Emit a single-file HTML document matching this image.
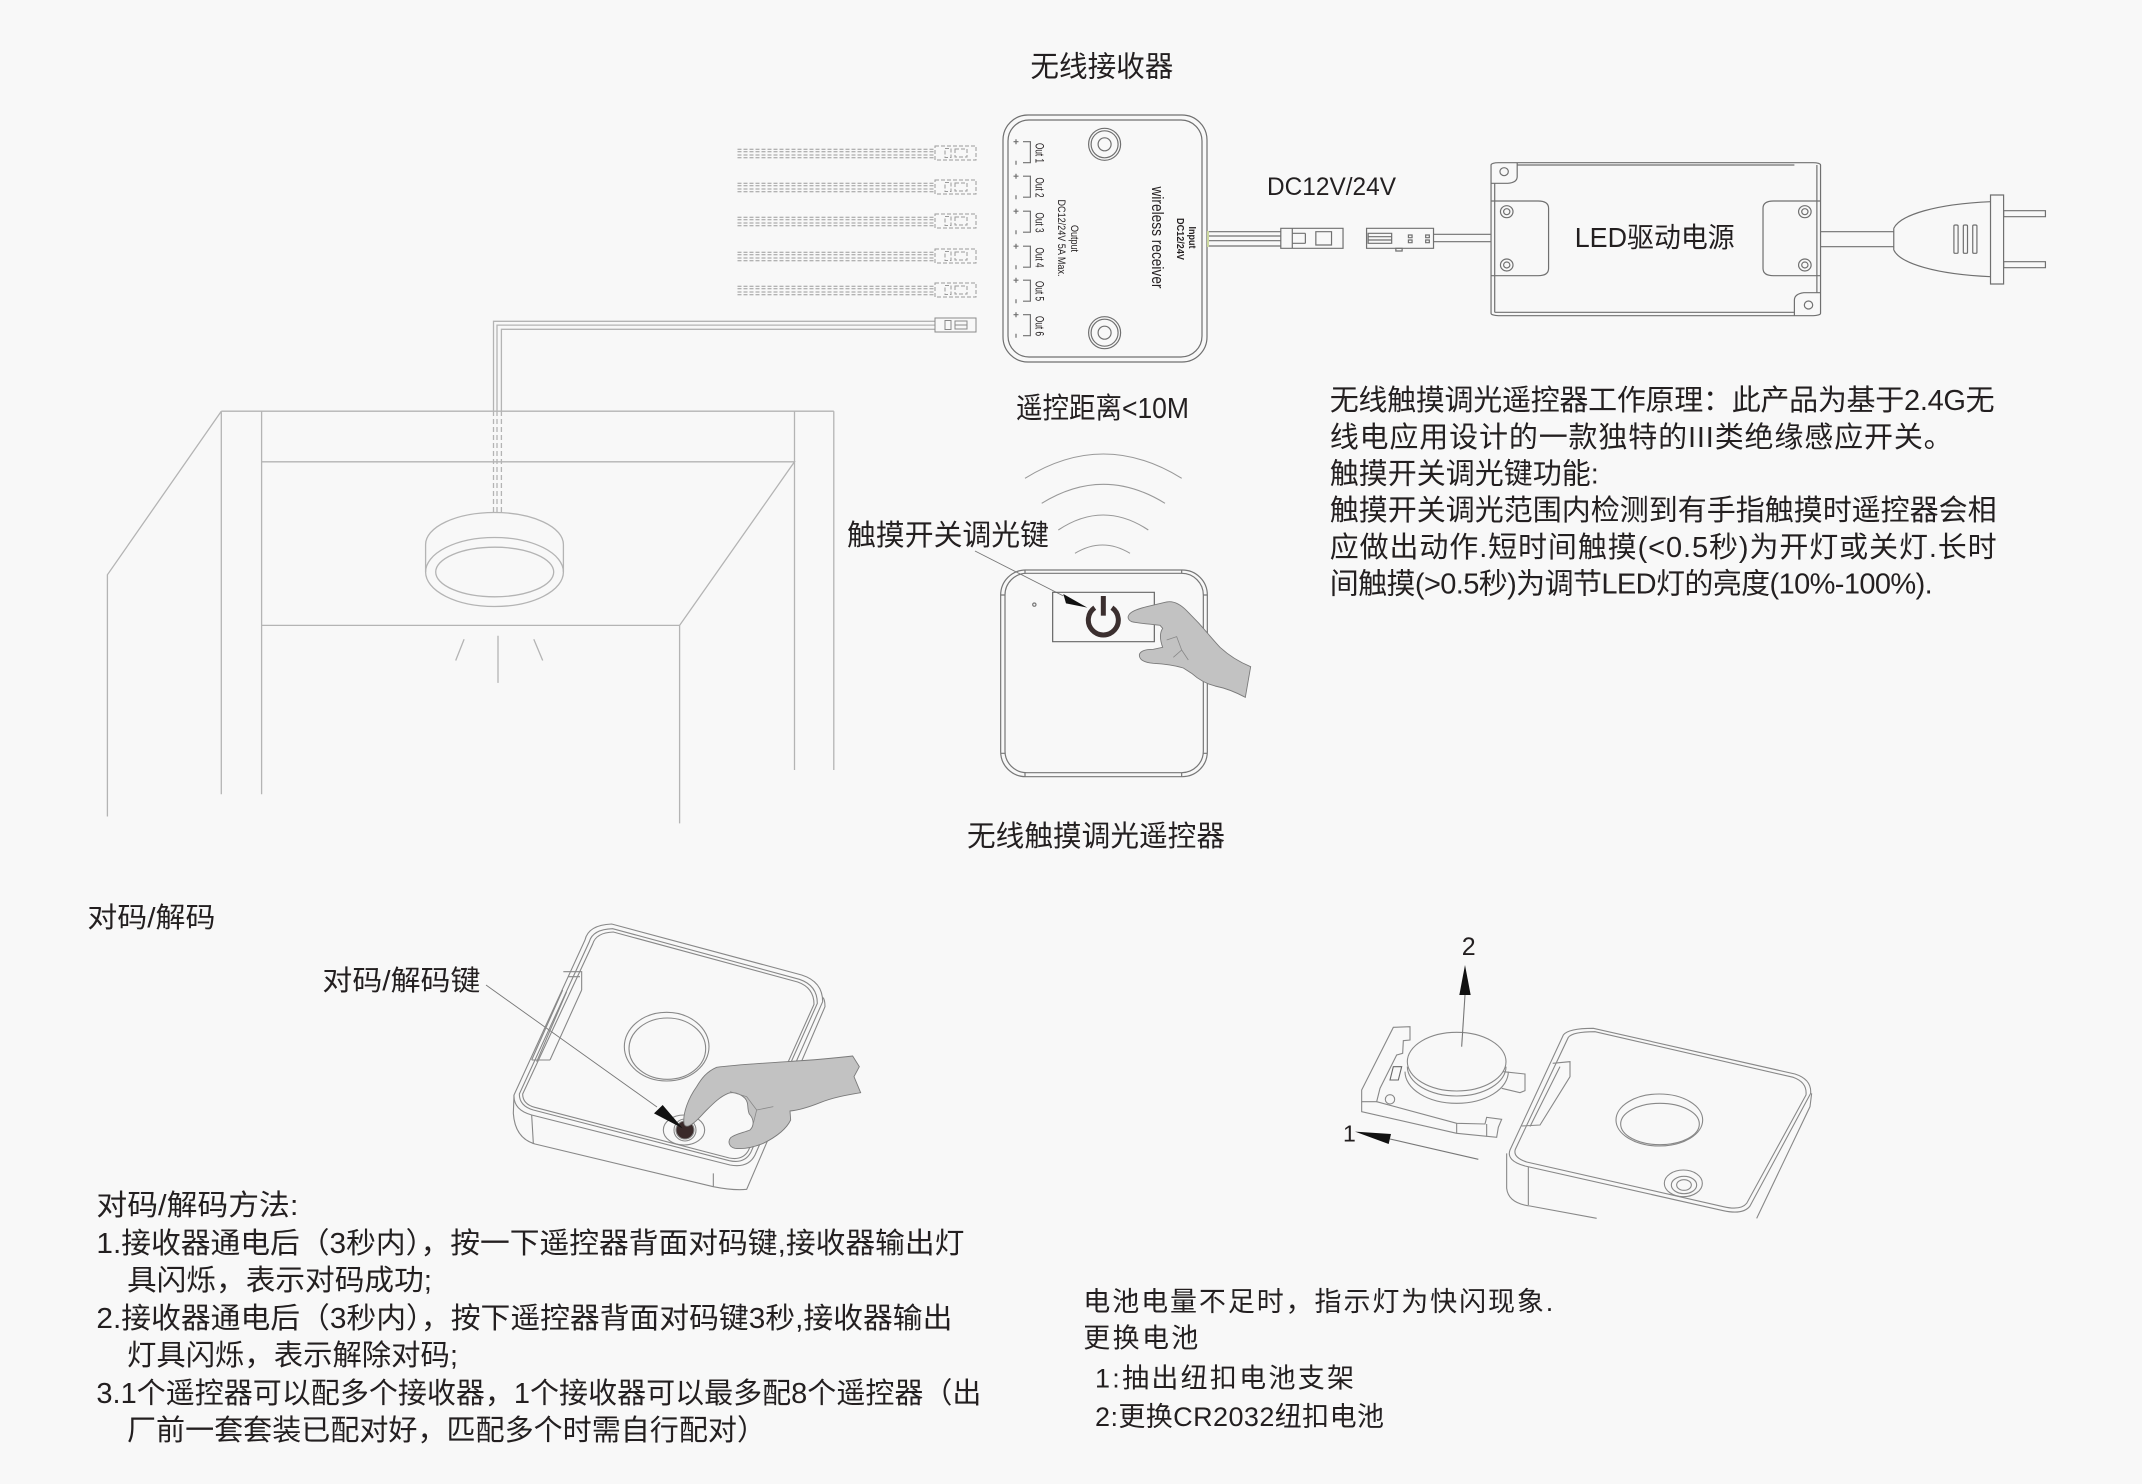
<!DOCTYPE html>
<html><head><meta charset="utf-8">
<style>
html,body{margin:0;padding:0;background:#f8f8f8;}
svg{display:block}
svg *{vector-effect:non-scaling-stroke}
text{font-family:"Liberation Sans","Noto Sans CJK SC",sans-serif;fill:#231f20;stroke:none}
</style></head><body>
<svg width="2142" height="1484" viewBox="0 0 2142 1484" xmlns="http://www.w3.org/2000/svg">
<rect width="2142" height="1484" fill="#f8f8f8"/>

<!-- ============ CABINET ============ -->
<g fill="none" stroke="#b4b4b4" stroke-width="1.3">
<path d="M221.3,411.2 H833.8 M221.3,411.2 L107.4,574.8 V816.5 M221.3,411.2 V794.2 M261.6,411.2 V794.2 M261.6,461.8 H794.5 L679.6,625.4 H261.6 M679.6,625.4 V823.4 M794.5,411.2 V770 M833.8,411.2 V770"/>
<path d="M935,321.3 H493.5 V411 M935,325.1 H497 V411 M935,329.3 H501.4 V411"/>
<path d="M493.5,411 V512 M497,411 V512 M501.4,411 V512" stroke-dasharray="5,3"/>
<path d="M425.6,572 V544.5 A68.9,32 0 0 1 563.4,544.5 V572"/>
<ellipse cx="494.5" cy="572" rx="68.9" ry="34.5"/>
<ellipse cx="494.7" cy="572" rx="59" ry="24.8"/>
<path d="M498,635.7 V682.9 M464.1,639.2 L455.7,660.5 M533.8,639.2 L542.7,660.5"/>
</g>

<!-- ============ RECEIVER ============ -->
<g fill="none" stroke="#707070" stroke-width="1.2">
<rect x="1003" y="115" width="204" height="247" rx="25"/>
<rect x="1008" y="120" width="194" height="237" rx="21"/>
<circle cx="1104.6" cy="144.3" r="16"/><circle cx="1104.6" cy="144.3" r="13.5"/><circle cx="1104.6" cy="144.3" r="6.5"/>
<circle cx="1104.6" cy="332.7" r="16"/><circle cx="1104.6" cy="332.7" r="13.5"/><circle cx="1104.6" cy="332.7" r="6.5"/>
<path d="M1023,141.7 H1030.4 V162.7 H1023 M1013.5,141.7 H1018.5 M1016,139.2 V144.2 M1016,160.7 V164.7"/>
<path d="M1023,176.2 H1030.4 V197.2 H1023 M1013.5,176.2 H1018.5 M1016,173.7 V178.7 M1016,195.2 V199.2"/>
<path d="M1023,211.2 H1030.4 V232.2 H1023 M1013.5,211.2 H1018.5 M1016,208.7 V213.7 M1016,230.2 V234.2"/>
<path d="M1023,246.2 H1030.4 V267.2 H1023 M1013.5,246.2 H1018.5 M1016,243.7 V248.7 M1016,265.2 V269.2"/>
<path d="M1023,280.2 H1030.4 V301.2 H1023 M1013.5,280.2 H1018.5 M1016,277.7 V282.7 M1016,299.2 V303.2"/>
<path d="M1023,314.7 H1030.4 V335.7 H1023 M1013.5,314.7 H1018.5 M1016,312.2 V317.2 M1016,333.7 V337.7"/>
<path d="M1207,231.7 H1281 M1207,236 H1281 M1207,240.7 H1281 M1207,246 H1281"/>
</g>
<line x1="1208" y1="231" x2="1208" y2="247" stroke="#cdd9a0" stroke-width="2"/>

<g fill="none" stroke="#9a9a9a" stroke-width="1" stroke-dasharray="4,2">
<path d="M737.5,149.3 H935 M737.5,151.7 H935 M737.5,155 H935 M737.5,157.7 H935"/>
<path d="M737.5,183.3 H935 M737.5,185.7 H935 M737.5,189 H935 M737.5,191.7 H935"/>
<path d="M737.5,217.3 H935 M737.5,219.7 H935 M737.5,223 H935 M737.5,225.7 H935"/>
<path d="M737.5,252.3 H935 M737.5,254.7 H935 M737.5,258 H935 M737.5,260.7 H935"/>
<path d="M737.5,286.3 H935 M737.5,288.7 H935 M737.5,292 H935 M737.5,294.7 H935"/>
<rect x="935" y="146" width="41" height="14"/><rect x="945" y="148.5" width="6" height="9"/><rect x="955" y="149" width="12" height="8"/>
<rect x="935" y="180" width="41" height="14"/><rect x="945" y="182.5" width="6" height="9"/><rect x="955" y="183" width="12" height="8"/>
<rect x="935" y="214" width="41" height="14"/><rect x="945" y="216.5" width="6" height="9"/><rect x="955" y="217" width="12" height="8"/>
<rect x="935" y="249" width="41" height="14"/><rect x="945" y="251.5" width="6" height="9"/><rect x="955" y="252" width="12" height="8"/>
<rect x="935" y="283" width="41" height="14"/><rect x="945" y="285.5" width="6" height="9"/><rect x="955" y="286" width="12" height="8"/>
</g>
<g fill="none" stroke="#8a8a8a" stroke-width="1">
<rect x="935" y="318" width="41" height="14"/><rect x="945" y="320.5" width="6" height="9"/><rect x="955" y="321" width="12" height="8"/>
<line x1="955" y1="325" x2="967" y2="325"/>
</g>

<g font-size="12">
<text transform="translate(1035.5,153) rotate(90)" text-anchor="middle" textLength="20" lengthAdjust="spacingAndGlyphs">Out 1</text>
<text transform="translate(1035.5,187.5) rotate(90)" text-anchor="middle" textLength="20" lengthAdjust="spacingAndGlyphs">Out 2</text>
<text transform="translate(1035.5,222.5) rotate(90)" text-anchor="middle" textLength="20" lengthAdjust="spacingAndGlyphs">Out 3</text>
<text transform="translate(1035.5,257.5) rotate(90)" text-anchor="middle" textLength="20" lengthAdjust="spacingAndGlyphs">Out 4</text>
<text transform="translate(1035.5,291) rotate(90)" text-anchor="middle" textLength="20" lengthAdjust="spacingAndGlyphs">Out 5</text>
<text transform="translate(1035.5,326) rotate(90)" text-anchor="middle" textLength="20" lengthAdjust="spacingAndGlyphs">Out 6</text>
<text transform="translate(1071,238.5) rotate(90)" text-anchor="middle" font-size="11" textLength="27" lengthAdjust="spacingAndGlyphs">Output</text>
<text transform="translate(1058,238) rotate(90)" text-anchor="middle" font-size="11" textLength="77" lengthAdjust="spacingAndGlyphs">DC12/24V 5A Max.</text>
<text transform="translate(1152,237.5) rotate(90)" text-anchor="middle" font-size="17" textLength="102" lengthAdjust="spacingAndGlyphs">wireless receiver</text>
<text transform="translate(1189,237.5) rotate(90)" text-anchor="middle" font-size="10" font-weight="bold" textLength="22" lengthAdjust="spacingAndGlyphs">Input</text>
<text transform="translate(1177,239) rotate(90)" text-anchor="middle" font-size="10" font-weight="bold" textLength="42" lengthAdjust="spacingAndGlyphs">DC12/24V</text>
</g>

<!-- ============ DRIVER ============ -->
<g transform="matrix(0.52301,0,0,0.33333,1240,140)" fill="none" stroke="#707070" stroke-width="1.2">
<rect x="480" y="68" width="630" height="459" rx="14" ry="7"/>
<path d="M530,75 H1060 M487,130 V517 M1103,75 V458 M487,517 H1060"/>
<path d="M480,130 H512 Q530,128 530,110 V68"/>
<ellipse cx="505" cy="95" rx="8" ry="12"/>
<path d="M1110,458 H1078 Q1060,462 1060,480 V527"/>
<ellipse cx="1087" cy="495" rx="8" ry="12"/>
<path d="M480,183 H570 Q590,183 590,205 V385 Q590,407 570,407 H480"/>
<ellipse cx="510" cy="215" rx="12" ry="18"/><ellipse cx="510" cy="215" rx="6" ry="9"/>
<ellipse cx="510" cy="375" rx="12" ry="18"/><ellipse cx="510" cy="375" rx="6" ry="9"/>
<path d="M1110,183 H1020 Q1000,183 1000,205 V385 Q1000,407 1020,407 H1110"/>
<ellipse cx="1080" cy="215" rx="12" ry="18"/><ellipse cx="1080" cy="215" rx="6" ry="9"/>
<ellipse cx="1080" cy="375" rx="12" ry="18"/><ellipse cx="1080" cy="375" rx="6" ry="9"/>
<rect x="78" y="265" width="119" height="60"/>
<path d="M100,265 V325 M125,280 V310 M100,280 H125 M100,310 H125"/>
<rect x="145" y="275" width="30" height="40"/>
<rect x="242" y="265" width="128" height="60"/>
<rect x="245" y="280" width="45" height="30"/>
<path d="M245,290 H290 M245,300 H290"/>
<rect x="322" y="285" width="7" height="8"/><rect x="322" y="300" width="7" height="8"/>
<rect x="355" y="285" width="7" height="8"/><rect x="355" y="300" width="7" height="8"/>
<rect x="298" y="325" width="12" height="8"/>
<path d="M370,283 H480 M370,305 H480"/>
<path d="M1110,275 H1250 M1110,320 H1250"/>
<path d="M1250,265 C1262,225 1330,192 1435,185 M1250,330 C1262,370 1330,403 1435,410 M1250,265 V330"/>
<rect x="1435" y="165" width="25" height="267"/>
<rect x="1460" y="212" width="80" height="18"/>
<rect x="1460" y="365" width="80" height="18"/>
<rect x="1365" y="255" width="8" height="85" rx="3"/>
<rect x="1383" y="255" width="8" height="85" rx="3"/>
<rect x="1401" y="255" width="8" height="85" rx="3"/>
</g>

<!-- ============ REMOTE (top) ============ -->
<g fill="none" stroke="#999" stroke-width="1.1">
<path d="M1025,478.3 Q1103.4,429.7 1181.7,478.3"/>
<path d="M1041.7,503.3 Q1103.4,465.3 1165,503.3"/>
<path d="M1058.3,530 Q1103.3,500 1148.3,530"/>
<path d="M1075,553.3 Q1102.5,536.7 1130,553.3"/>
<line x1="975" y1="551" x2="1063.5" y2="596" stroke="#777" stroke-width="0.9"/>
</g>
<g transform="matrix(0.33333,0,0,0.33333,980,440)" fill="none" stroke="#777" stroke-width="1.2">
<rect x="62" y="390" width="620" height="620" rx="75"/>
<rect x="75" y="400" width="595" height="598" rx="65"/>
<path d="M135,390 V400 M605,390 V400 M135,998 V1010 M605,998 V1010 M62,465 H75 M62,940 H75 M670,465 H682 M670,940 H682"/>
<rect x="218" y="457" width="305" height="148" stroke="#666"/>
<circle cx="163" cy="494" r="5"/>
<path d="M395.8,503.1 A45,45 0 1 1 344.2,503.1" stroke="#3b2f2f" stroke-width="5"/>
<line x1="370" y1="468" x2="370" y2="527" stroke="#3b2f2f" stroke-width="5"/>
<polygon points="250,462 258,490 322,503" fill="#111" stroke="none"/>
<path d="M445,528 C450,515 470,508 500,500 L560,486 C580,482 600,492 620,512 L655,548 C675,570 695,595 720,622 C745,645 775,665 812,680 L796,772 C770,758 740,745 705,738 C680,732 655,718 635,700 L610,684 C590,678 560,672 520,670 C495,668 478,660 478,645 C480,632 498,628 520,628 L548,622 C540,600 538,580 548,565 L540,556 C510,552 475,550 455,545 C445,540 443,534 445,528 Z" fill="#c2c2c2" stroke="#7a7a7a" stroke-width="0.9"/>
<path d="M560,600 L590,590 L605,630 L580,652 M605,630 L625,660" stroke="#888" stroke-width="0.8"/>
</g>

<!-- ============ DEVICE bottom-left ============ -->
<line x1="486" y1="985" x2="657" y2="1107" stroke="#777" stroke-width="0.9"/>
<g transform="matrix(0.33333,0,0,0.33333,500,910)" fill="none" stroke="#888" stroke-width="1.1">
<path d="M255,90 Q265,45 335,42 L905,195 Q968,215 968,275 L765,735 Q745,775 690,765 L95,615 Q40,600 42,555 Z"/>
<path d="M268,95 Q278,58 338,56 L898,208 Q952,226 952,280 L752,728 Q733,762 688,752 L100,600 Q58,588 58,552 Z"/>
<path d="M278,102 Q288,68 340,66 L893,216 Q942,233 942,283 L745,722 Q728,752 688,744 L104,592 Q68,582 68,552 Z"/>
<path d="M42,555 L40,610 Q45,685 105,702 L640,830 Q700,842 740,838 L975,290 Q975,268 968,262"/>
<path d="M95,615 L100,700 M640,790 L640,830"/>
<path d="M190,185 H245 V240 M205,200 H240 M188,240 L95,450 M200,245 L110,455 M245,240 L150,450 M150,450 L95,450"/>
<ellipse cx="500" cy="410" rx="127" ry="103"/>
<ellipse cx="502" cy="416" rx="115" ry="92"/>
<ellipse cx="552" cy="660" rx="62" ry="45"/>
<circle cx="555" cy="660" r="33"/>
<circle cx="555" cy="660" r="27" fill="#3a2a2a"/>
<polygon points="462,610 488,585 548,655" fill="#111" stroke="none"/>
<path d="M552,640 C548,610 565,565 590,530 C605,505 620,485 650,472 C700,465 780,460 860,455 C940,450 1000,445 1058,438 L1078,470 L1062,500 L1082,548 C1040,555 1000,562 960,578 C930,590 900,600 870,603 L872,630 C860,655 830,680 790,700 C760,712 730,718 705,715 C688,712 682,695 692,683 C705,672 730,668 750,660 C765,645 760,625 748,612 C740,595 748,580 735,565 C720,550 700,545 685,550 C660,560 640,580 620,600 C600,620 585,640 565,648 C558,650 553,647 552,640 Z" fill="#c2c2c2" stroke="#7a7a7a" stroke-width="0.9"/>
<path d="M690,545 L740,560 L770,600 L760,640 M770,600 L820,590" stroke="#888" stroke-width="0.8"/>
</g>

<!-- ============ DEVICE bottom-right ============ -->
<g transform="matrix(0.33333,0,0,0.33333,1330,920)" fill="none" stroke="#888" stroke-width="1.1">
<path d="M700,345 Q715,325 790,325 L1395,462 Q1445,478 1442,520 L1260,858 Q1240,885 1180,872 L585,738 Q528,722 540,690 Z"/>
<path d="M715,352 Q728,335 795,335 L1390,472 Q1432,487 1428,525 L1250,850 Q1232,872 1180,860 L590,726 Q548,712 556,688 Z"/>
<path d="M530,700 L530,805 Q535,850 600,858 L800,895 M1445,520 L1440,560 L1280,895 M595,740 V855"/>
<path d="M668,430 L720,425 L720,470 L630,615 L575,618 M690,440 L600,620"/>
<ellipse cx="988" cy="600" rx="130" ry="78"/>
<ellipse cx="990" cy="612" rx="118" ry="62"/>
<ellipse cx="1060" cy="790" rx="57" ry="40"/>
<ellipse cx="1062" cy="795" rx="38" ry="26"/>
<ellipse cx="1062" cy="795" rx="22" ry="16"/>
<path d="M95,510 L190,322 L240,320 L240,360 L220,362 L218,400 L200,405 L150,505 L140,545 L95,545 Z"/>
<path d="M95,545 L95,575 L380,640 L500,652 L505,622 L515,598 L470,592 L465,612 L380,610 L140,545"/>
<path d="M380,610 V640 M470,612 V650"/>
<path d="M225,455 A155,95 0 0 0 535,455"/>
<path d="M232,440 A148,88 0 0 0 528,440"/>
<ellipse cx="380" cy="425" rx="148" ry="88" fill="#f8f8f8"/>
<path d="M520,455 L585,462 L585,512 L570,518 L515,505"/>
<circle cx="180" cy="538" r="14"/>
<path d="M190,440 L215,440 L205,480 L180,480 Z" stroke="#666"/>
<polygon points="405,135 388,225 422,225" fill="#111" stroke="none"/>
<line x1="405" y1="225" x2="395" y2="380" stroke="#777"/>
<polygon points="75,635 183,642 176,672" fill="#111" stroke="none"/>
<line x1="180" y1="657" x2="445" y2="718" stroke="#777"/>
</g>

<!-- ============ TEXT ============ -->
<text x="1030.4" y="76.5" font-size="29" textLength="143" lengthAdjust="spacingAndGlyphs">无线接收器</text>
<text x="1267" y="195" font-size="25" textLength="129" lengthAdjust="spacingAndGlyphs">DC12V/24V</text>
<text x="1574.7" y="247" font-size="28" textLength="160" lengthAdjust="spacingAndGlyphs">LED驱动电源</text>
<text x="1016" y="418" font-size="29" textLength="173" lengthAdjust="spacingAndGlyphs">遥控距离&lt;10M</text>
<text x="847" y="545" font-size="29" textLength="202" lengthAdjust="spacingAndGlyphs">触摸开关调光键</text>
<text x="967" y="846" font-size="29" textLength="258" lengthAdjust="spacingAndGlyphs">无线触摸调光遥控器</text>
<text x="87.4" y="927" font-size="28" textLength="128" lengthAdjust="spacingAndGlyphs">对码/解码</text>
<text x="322.4" y="990" font-size="28" textLength="158" lengthAdjust="spacingAndGlyphs">对码/解码键</text>
<text x="1461.7" y="955" font-size="25">2</text>
<text x="1343" y="1141.5" font-size="23">1</text>

<g font-size="29">
<text x="1329.7" y="410" textLength="665" lengthAdjust="spacing">无线触摸调光遥控器工作原理：此产品为基于2.4G无</text>
<text x="1329.7" y="447" textLength="623" lengthAdjust="spacing">线电应用设计的一款独特的III类绝缘感应开关。</text>
<text x="1329.7" y="483.5">触摸开关调光键功能:</text>
<text x="1329.7" y="520" textLength="667" lengthAdjust="spacing">触摸开关调光范围内检测到有手指触摸时遥控器会相</text>
<text x="1329.7" y="557" textLength="667" lengthAdjust="spacing">应做出动作.短时间触摸(&lt;0.5秒)为开灯或关灯.长时</text>
<text x="1329.7" y="593.5" textLength="603" lengthAdjust="spacing">间触摸(&gt;0.5秒)为调节LED灯的亮度(10%-100%).</text>
</g>

<g font-size="29">
<text x="96.4" y="1215" textLength="202" lengthAdjust="spacingAndGlyphs">对码/解码方法:</text>
<text x="96.4" y="1253" textLength="868" lengthAdjust="spacingAndGlyphs">1.接收器通电后（3秒内），按一下遥控器背面对码键,接收器输出灯</text>
<text x="127" y="1290" textLength="305" lengthAdjust="spacingAndGlyphs">具闪烁，表示对码成功;</text>
<text x="96.4" y="1328" textLength="856" lengthAdjust="spacingAndGlyphs">2.接收器通电后（3秒内），按下遥控器背面对码键3秒,接收器输出</text>
<text x="127" y="1365" textLength="331" lengthAdjust="spacingAndGlyphs">灯具闪烁，表示解除对码;</text>
<text x="96.4" y="1403" textLength="885" lengthAdjust="spacingAndGlyphs">3.1个遥控器可以配多个接收器，1个接收器可以最多配8个遥控器（出</text>
<text x="127" y="1440" textLength="639" lengthAdjust="spacingAndGlyphs">厂前一套套装已配对好，匹配多个时需自行配对）</text>
</g>

<g font-size="27">
<text x="1083.3" y="1311" textLength="470" lengthAdjust="spacing">电池电量不足时，指示灯为快闪现象.</text>
<text x="1083.3" y="1347.5" textLength="115" lengthAdjust="spacing">更换电池</text>
<text x="1095" y="1387.5" textLength="259" lengthAdjust="spacing">1:抽出纽扣电池支架</text>
<text x="1095" y="1426" textLength="289" lengthAdjust="spacing">2:更换CR2032纽扣电池</text>
</g>
</svg>
</body></html>
